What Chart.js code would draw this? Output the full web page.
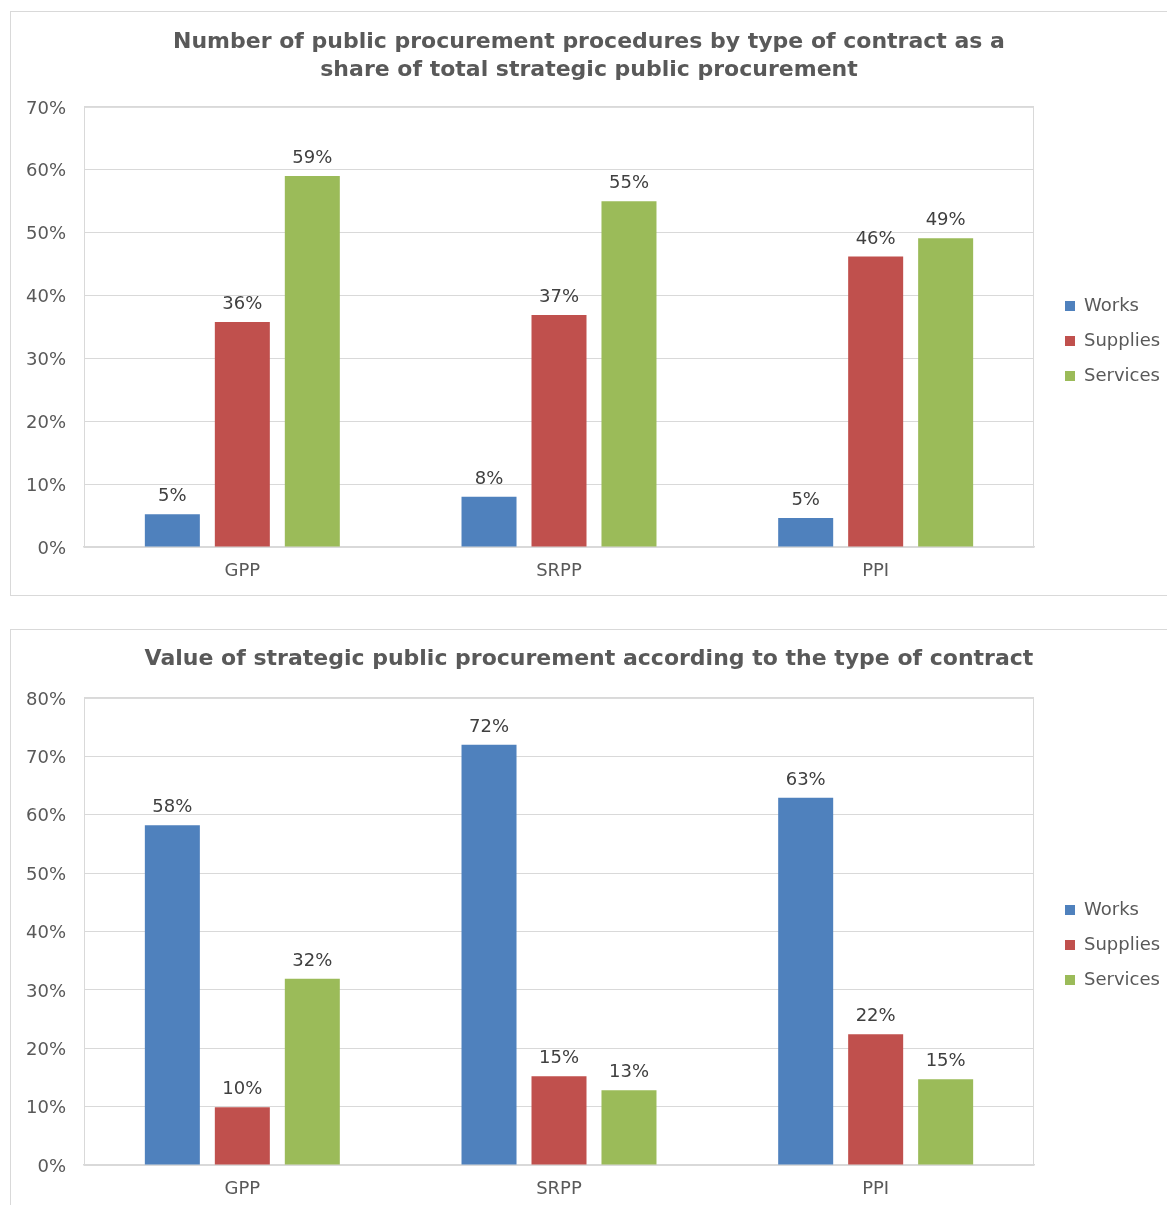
<!DOCTYPE html>
<html>
<head>
<meta charset="utf-8">
<script src="https://cdn.jsdelivr.net/npm/chart.js@4/dist/chart.umd.min.js"></script>
<style>
  body { margin: 0; background: #fff; overflow: hidden; }
  .frame { position: absolute; left: 10px; width: 1180px; border: 1px solid #d9d9d9; background: #fff; }
  #f1 { top: 11px; height: 583px; }
  #f2 { top: 629px; height: 620px; }
  canvas { position: absolute; left: 0; top: 0; }
</style>
</head>
<body>
<div class="frame" id="f1"><canvas id="c1" width="1156" height="582"></canvas></div>
<div class="frame" id="f2"><canvas id="c2" width="1156" height="582"></canvas></div>
<script>
const categories = ['GPP', 'SRPP', 'PPI'];
const seriesNames = ['Works', 'Supplies', 'Services'];
const seriesColors = ['#4F81BD', '#C0504D', '#9BBB59'];

// chart 1: number of procedures (% share)
const countWorks = [5.2, 8.0, 4.6];
const countSupplies = [35.8, 36.9, 46.2];
const countServices = [59.0, 55.0, 49.1];

// chart 2: value (% share)
const valueWorks = [58.2, 72.0, 62.9];
const valueSupplies = [9.9, 15.2, 22.4];
const valueServices = [31.9, 12.8, 14.7];

const FONT = 'DejaVu Sans';
const GRID = '#d9d9d9';
const TEXT = '#595959';

// labels above each bar
const barLabels = {
  id: 'barLabels',
  afterDatasetsDraw(chart) {
    const ctx = chart.ctx;
    ctx.save();
    ctx.font = '18px "' + FONT + '"';
    ctx.fillStyle = '#404040';
    ctx.textAlign = 'center';
    ctx.textBaseline = 'alphabetic';
    chart.data.datasets.forEach((ds, i) => {
      chart.getDatasetMeta(i).data.forEach((bar, j) => {
        ctx.fillText(Math.round(ds.data[j]) + '%', bar.x, bar.y - 13);
      });
    });
    ctx.restore();
  }
};

// light box around the plot area
const plotFrame = {
  id: 'plotFrame',
  beforeDatasetsDraw(chart) {
    const a = chart.chartArea;
    const ctx = chart.ctx;
    ctx.save();
    ctx.strokeStyle = GRID;
    ctx.lineWidth = 1;
    ctx.strokeRect(a.left + 0.5, a.top + 0.5, a.right - a.left - 1, a.bottom - a.top);
    ctx.restore();
  }
};

// fixed legend width so the plot ends where it should
const fixLegend = {
  id: 'fixLegend',
  beforeLayout(chart) {
    const lg = chart.legend;
    if (lg && !lg._fixed) {
      const fit = lg.fit.bind(lg);
      lg.fit = function () { fit(); this.width = 119; };
      lg._fixed = true;
    }
  }
};

function makeChart(id, title, titlePad, legendShift, yMax, works, supplies, services) {
  const values = [works, supplies, services];
  return new Chart(document.getElementById(id), {
    type: 'bar',
    data: {
      labels: categories,
      datasets: seriesNames.map((name, i) => ({
        label: name,
        data: values[i],
        backgroundColor: seriesColors[i],
        borderWidth: 0,
        categoryPercentage: 0.663,
        barPercentage: 0.786
      }))
    },
    options: {
      responsive: false,
      animation: false,
      layout: { padding: 0 },
      plugins: {
        title: {
          display: true,
          text: title,
          color: TEXT,
          font: { family: FONT, size: 22, weight: 'bold', lineHeight: 1.27 },
          padding: titlePad
        },
        legend: {
          position: 'right',
          title: { display: true, text: '', font: { size: 10, lineHeight: 1 }, padding: { top: legendShift, bottom: 0 } },
          labels: {
            boxWidth: 10,
            boxHeight: 10,
            padding: 17,
            color: TEXT,
            font: { family: FONT, size: 18 }
          }
        },
        tooltip: { enabled: false }
      },
      scales: {
        x: {
          grid: { display: false, drawTicks: false },
          border: { color: GRID, width: 1.5 },
          ticks: { color: TEXT, font: { family: FONT, size: 18 }, padding: 14 },
          afterFit(scale) { scale.height = 47; }
        },
        y: {
          min: 0,
          max: yMax,
          grid: { color: GRID, drawTicks: false },
          border: { display: false },
          ticks: {
            stepSize: 10,
            color: TEXT,
            font: { family: FONT, size: 18 },
            padding: 18,
            labelOffset: 2,
            callback: v => v + '%'
          },
          afterFit(scale) { scale.width = 73; }
        },
        gap: {
          position: 'right',
          display: true,
          grid: { display: false, drawTicks: false },
          border: { display: false },
          ticks: { display: false },
          afterFit(scale) { scale.width = 14; }
        }
      }
    },
    plugins: [plotFrame, barLabels, fixLegend]
  });
}

makeChart('c1',
  ['Number of public procurement procedures by type of contract as a', 'share of total strategic public procurement'],
  { top: 16, bottom: 23 }, 66, 70, countWorks, countSupplies, countServices);

makeChart('c2',
  'Value of strategic public procurement according to the type of contract',
  { top: 15, bottom: 25 }, 38, 80, valueWorks, valueSupplies, valueServices);
</script>
</body>
</html>
